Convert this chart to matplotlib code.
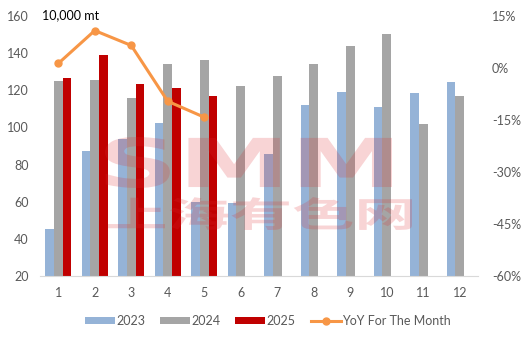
import matplotlib.pyplot as plt
import numpy as np
from matplotlib.textpath import TextPath
from matplotlib.patches import PathPatch
from matplotlib.font_manager import FontProperties
from matplotlib.transforms import Affine2D

plt.rcParams['font.family'] = ['Lato', 'Noto Sans CJK SC', 'DejaVu Sans']

months = [1, 2, 3, 4, 5, 6, 7, 8, 9, 10, 11, 12]
output_2023 = [45.3, 87.3, 93.8, 102.4, 59.8, 59.3, 85.7, 112.1, 119.1, 111.0, 118.5, 124.5]
output_2024 = [125.0, 125.5, 115.9, 134.2, 136.3, 122.3, 127.7, 134.2, 143.9, 150.3, 101.9, 116.9]
output_2025 = [126.6, 139.0, 123.4, 121.2, 116.9]
yoy_2025 = [1.3, 10.8, 6.5, -9.6, -14.2]

c23 = '#95b3d7'
c24 = '#a5a5a5'
c25 = '#c00000'
c_yoy = '#f79646'
tick_col = '#595959'
W, H = 530, 342

fig = plt.figure(figsize=(W / 100, H / 100), dpi=100)
ax = fig.add_axes([40 / W, 1 - 276 / H, 438 / W, 260 / H])
ax2 = ax.twinx()

x = np.array(months)
w = 0.24
ax.bar(x - w, output_2023, w, color=c23, label='2023', zorder=2)
ax.bar(x, output_2024, w, color=c24, label='2024', zorder=2)
ax.bar(x[:len(output_2025)] + w, output_2025, w, color=c25, label='2025', zorder=2)

ax.set_ylim(20, 160)
ax.set_yticks(range(20, 161, 20))
ax.set_xlim(0.5, 12.5)
ax.set_xticks(months)

ax2.plot(x[:len(yoy_2025)], yoy_2025, color=c_yoy, lw=2.2, marker='o', ms=5,
         label='YoY For The Month', zorder=3)
ax2.set_ylim(-60, 15)
ax2.set_yticks(range(-60, 16, 15))
ax2.set_yticklabels([f'{v}%' for v in range(-60, 16, 15)])

for a in (ax, ax2):
    for s in a.spines.values():
        s.set_visible(False)
    a.tick_params(length=0, colors=tick_col, labelsize=9)
ax.spines['bottom'].set_visible(True)
ax.spines['bottom'].set_color('#d9d9d9')
ax.tick_params(axis='x', pad=8)
ax.tick_params(axis='y', pad=8)
ax2.tick_params(axis='y', pad=10)

fig.text(42 / W, 1 - 15 / H, '10,000 mt', fontsize=9, color='black', va='center')


# watermark text stretched into a pixel box (left, top, right, bottom)
def stamp(text, box, family):
    tp = TextPath((0, 0), text, size=50, prop=FontProperties(family=family, weight='bold'))
    ext = tp.get_extents()
    x0, y0, x1, y1 = box
    sx = (x1 - x0) / ext.width
    sy = (y1 - y0) / ext.height
    tr = (Affine2D().translate(-ext.x0, -ext.y0).scale(sx, sy)
          .translate(x0, H - y1))
    patch = PathPatch(tp, facecolor='#dc2a30', edgecolor='none', alpha=0.2,
                      transform=tr, zorder=10)
    fig.add_artist(patch)


stamp('SMM', (105, 137, 392, 188), 'DejaVu Sans')
stamp('上海有色网', (108, 197, 412, 230), 'Noto Sans CJK SC')

h1, l1 = ax.get_legend_handles_labels()
h2, l2 = ax2.get_legend_handles_labels()
fig.legend(h1 + h2, l1 + l2, loc='center', bbox_to_anchor=(0.505, 1 - 321 / H), ncol=4,
           frameon=False, fontsize=9, labelcolor=tick_col, handlelength=2.4,
           handletextpad=0.1, columnspacing=1.2, handleheight=0.5)

fig.savefig('out.png', dpi=100)
